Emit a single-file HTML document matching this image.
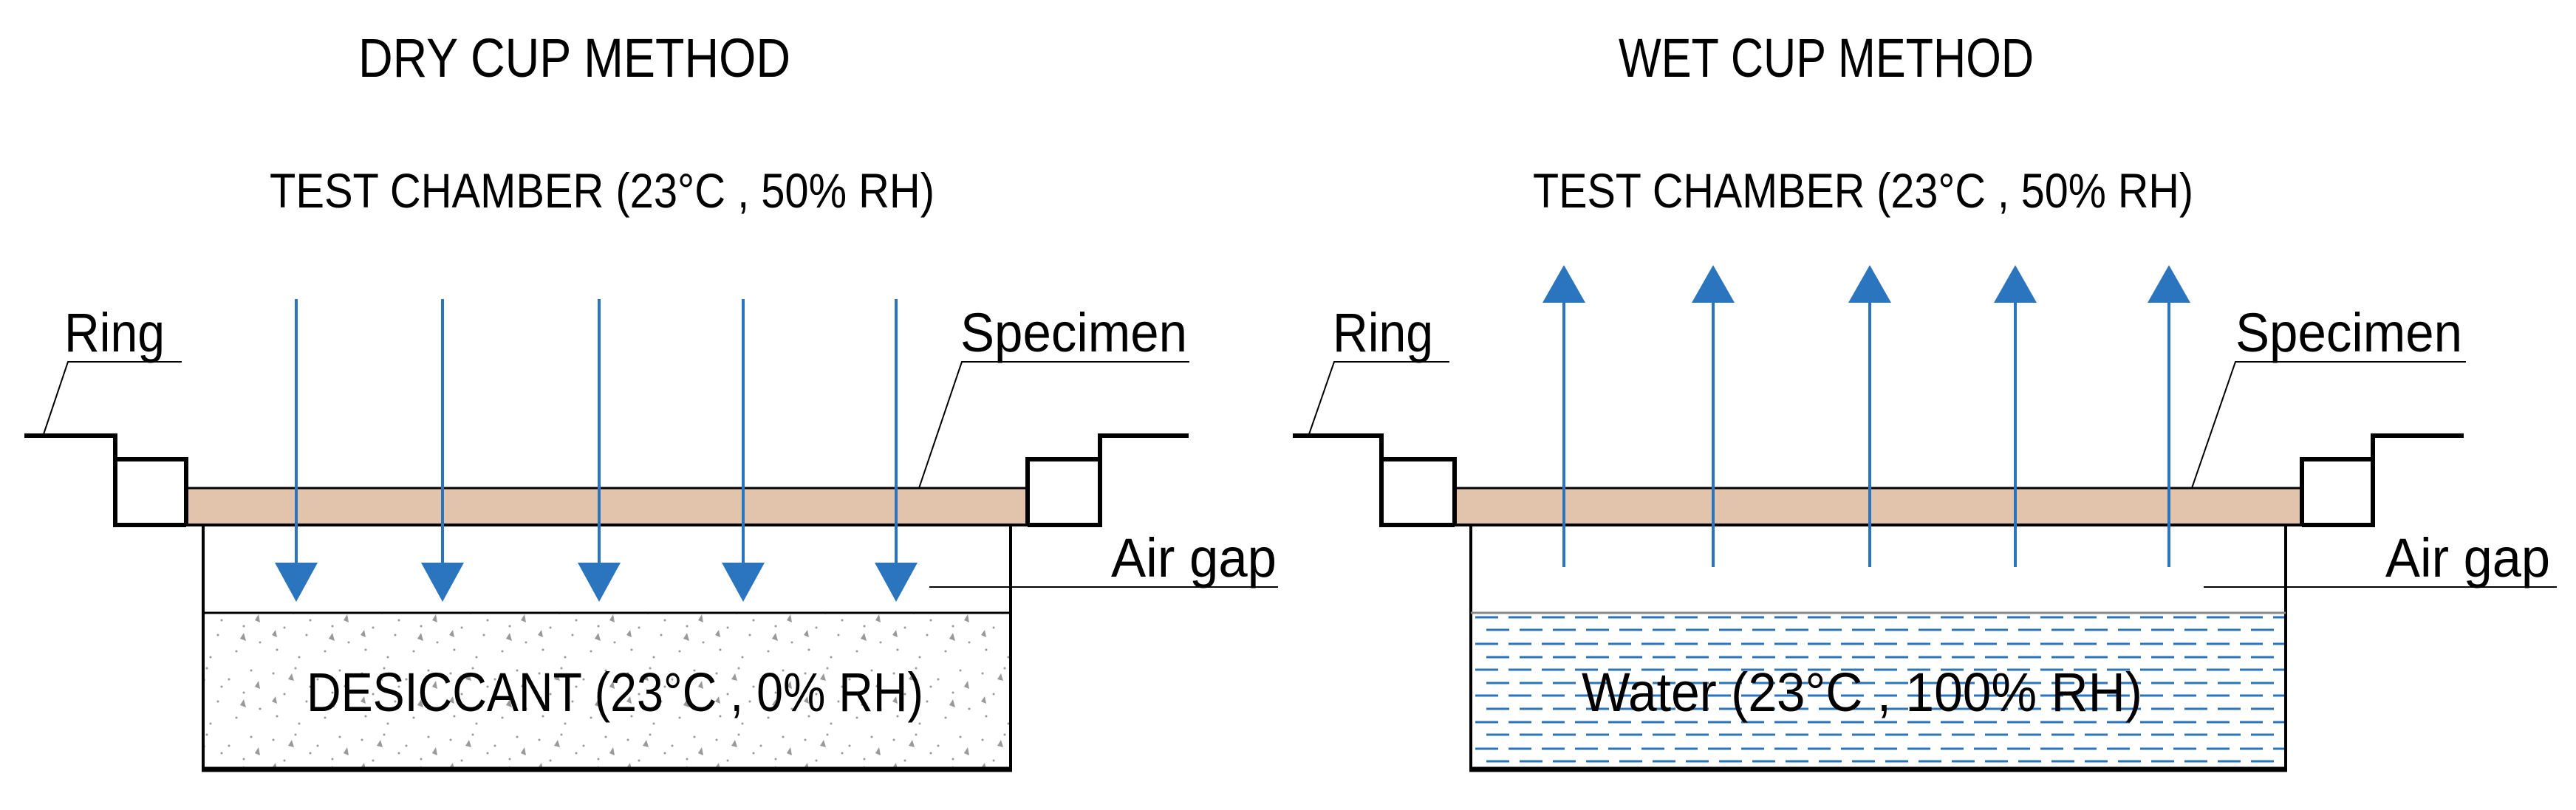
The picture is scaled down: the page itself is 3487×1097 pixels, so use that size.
<!DOCTYPE html>
<html><head><meta charset="utf-8"><style>
html,body{margin:0;padding:0;background:#fff;}
svg{display:block;}
text{font-family:"Liberation Sans",sans-serif;fill:#000;}
</style></head><body>
<svg width="3487" height="1097" viewBox="0 0 3487 1097" xmlns="http://www.w3.org/2000/svg">
<defs>
<pattern id="stip" width="120" height="90" patternUnits="userSpaceOnUse">
<rect width="120" height="90" fill="#fff"/>
<g fill="#999">
<circle cx="10" cy="12" r="1.5"/><circle cx="40" cy="5" r="1.5"/><circle cx="70" cy="20" r="1.5"/><circle cx="100" cy="8" r="1.5"/>
<circle cx="25" cy="40" r="1.5"/><circle cx="55" cy="50" r="1.5"/><circle cx="90" cy="38" r="1.5"/><circle cx="112" cy="60" r="1.5"/>
<circle cx="15" cy="70" r="1.5"/><circle cx="45" cy="80" r="1.5"/><circle cx="80" cy="72" r="1.5"/><circle cx="60" cy="30" r="1.5"/>
<polygon points="30,20 35,12 38,22"/><polygon points="85,55 90,47 93,58"/><polygon points="8,50 13,43 15,53"/><polygon points="105,30 110,22 112,33"/>
</g>
</pattern>
</defs>

<text x="485" y="104" font-size="74" textLength="585" lengthAdjust="spacingAndGlyphs">DRY CUP METHOD</text>
<text x="2191" y="104" font-size="74" textLength="562" lengthAdjust="spacingAndGlyphs">WET CUP METHOD</text>
<text x="365" y="281" font-size="66" textLength="900" lengthAdjust="spacingAndGlyphs">TEST CHAMBER (23°C , 50% RH)</text>
<text x="2075" y="281" font-size="66" textLength="894" lengthAdjust="spacingAndGlyphs">TEST CHAMBER (23°C , 50% RH)</text>

<!-- LEFT -->
<rect x="275" y="711" width="1093" height="331" fill="#fff" stroke="#000" stroke-width="4"/>
<rect x="277" y="830" width="1089" height="210" fill="url(#stip)"/>
<line x1="275" y1="830" x2="1368" y2="830" stroke="#000" stroke-width="3"/>
<line x1="273" y1="1042" x2="1370" y2="1042" stroke="#000" stroke-width="7"/>
<rect x="252" y="661" width="1139" height="50" fill="#e2c4ad" stroke="#000" stroke-width="3"/>
<path d="M33 590 H156 V711 H252 M156 622 H252 V711" fill="none" stroke="#000" stroke-width="6"/>
<path d="M1609 590 H1489 V711 H1391 M1489 622 H1391 V711" fill="none" stroke="#000" stroke-width="6"/>
<line x1="252" y1="711" x2="1391" y2="711" stroke="#000" stroke-width="4"/>
<g stroke="#2a75bd" stroke-width="4">
<line x1="401" y1="405" x2="401" y2="770"/><line x1="599" y1="405" x2="599" y2="770"/><line x1="811" y1="405" x2="811" y2="770"/><line x1="1006" y1="405" x2="1006" y2="770"/><line x1="1213" y1="405" x2="1213" y2="770"/>
</g>
<g fill="#2a75bd">
<polygon points="372,762 430,762 401,815"/><polygon points="570,762 628,762 599,815"/><polygon points="782,762 840,762 811,815"/><polygon points="977,762 1035,762 1006,815"/><polygon points="1184,762 1242,762 1213,815"/>
</g>
<text x="415" y="963" font-size="74" textLength="835" lengthAdjust="spacingAndGlyphs">DESICCANT (23°C , 0% RH)</text>
<text x="87" y="476" font-size="74" textLength="136" lengthAdjust="spacingAndGlyphs">Ring</text>
<polyline points="59,588 92,490 246,490" fill="none" stroke="#000" stroke-width="2"/>
<text x="1300" y="476" font-size="74" textLength="307" lengthAdjust="spacingAndGlyphs">Specimen</text>
<polyline points="1244,661 1302,490 1610,490" fill="none" stroke="#000" stroke-width="2"/>
<text x="1504" y="781" font-size="74" textLength="224" lengthAdjust="spacingAndGlyphs">Air gap</text>
<line x1="1258" y1="795" x2="1730" y2="795" stroke="#000" stroke-width="2"/>

<!-- RIGHT -->
<rect x="1991" y="711" width="1103" height="331" fill="#fff" stroke="#000" stroke-width="4"/>
<line x1="1991" y1="830" x2="3094" y2="830" stroke="#888" stroke-width="3"/>
<g stroke="#2a75bd" stroke-width="3" stroke-dasharray="31 14">
<line x1="1997" y1="836" x2="3092" y2="836"/>
<line x1="2012" y1="853" x2="3092" y2="853" />
<line x1="1997" y1="872" x2="3092" y2="872"/>
<line x1="2012" y1="890" x2="3092" y2="890"/>
<line x1="1997" y1="907" x2="3092" y2="907"/>
<line x1="2012" y1="925" x2="3092" y2="925"/>
<line x1="1997" y1="942" x2="3092" y2="942"/>
<line x1="2012" y1="960" x2="3092" y2="960"/>
<line x1="1997" y1="978" x2="3092" y2="978"/>
<line x1="2012" y1="995" x2="3092" y2="995"/>
<line x1="1997" y1="1014" x2="3092" y2="1014"/>
<line x1="2012" y1="1031" x2="3092" y2="1031"/>
</g>
<line x1="1989" y1="1042" x2="3096" y2="1042" stroke="#000" stroke-width="7"/>
<rect x="1969" y="661" width="1147" height="50" fill="#e2c4ad" stroke="#000" stroke-width="3"/>
<path d="M1750 590 H1870 V711 H1969 M1870 622 H1969 V711" fill="none" stroke="#000" stroke-width="6"/>
<path d="M3335 590 H3212 V711 H3116 M3212 622 H3116 V711" fill="none" stroke="#000" stroke-width="6"/>
<line x1="1969" y1="711" x2="3116" y2="711" stroke="#000" stroke-width="4"/>
<g stroke="#2a75bd" stroke-width="4">
<line x1="2117" y1="405" x2="2117" y2="768"/><line x1="2319" y1="405" x2="2319" y2="768"/><line x1="2531" y1="405" x2="2531" y2="768"/><line x1="2728" y1="405" x2="2728" y2="768"/><line x1="2936" y1="405" x2="2936" y2="768"/>
</g>
<g fill="#2a75bd">
<polygon points="2088,410 2146,410 2117,359"/><polygon points="2290,410 2348,410 2319,359"/><polygon points="2502,410 2560,410 2531,359"/><polygon points="2699,410 2757,410 2728,359"/><polygon points="2907,410 2965,410 2936,359"/>
</g>
<text x="2141" y="963" font-size="74" textLength="759" lengthAdjust="spacingAndGlyphs">Water (23°C , 100% RH)</text>
<text x="1804" y="476" font-size="74" textLength="136" lengthAdjust="spacingAndGlyphs">Ring</text>
<polyline points="1772,588 1806,490 1962,490" fill="none" stroke="#000" stroke-width="2"/>
<text x="3026" y="476" font-size="74" textLength="307" lengthAdjust="spacingAndGlyphs">Specimen</text>
<polyline points="2967,661 3026,490 3338,490" fill="none" stroke="#000" stroke-width="2"/>
<text x="3229" y="781" font-size="74" textLength="223" lengthAdjust="spacingAndGlyphs">Air gap</text>
<line x1="2983" y1="795" x2="3461" y2="795" stroke="#000" stroke-width="2"/>
</svg>
</body></html>
